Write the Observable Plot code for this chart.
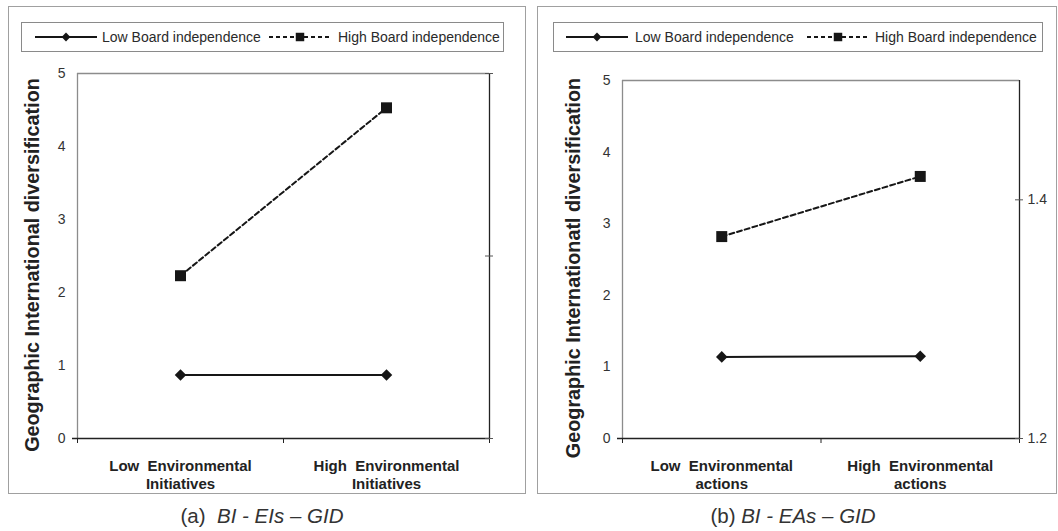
<!DOCTYPE html>
<html><head><meta charset="utf-8">
<script src="https://cdn.jsdelivr.net/npm/d3@7"></script>
<script src="https://cdn.jsdelivr.net/npm/@observablehq/plot@0.6"></script>
<style>
body{margin:0;background:#fff;font-family:"Liberation Sans",Arial,sans-serif;}
#root{position:relative;width:1058px;height:531px;overflow:hidden;background:#fff;}
.panel{position:absolute;border:1px solid #a0a0a0;box-sizing:border-box;}
.legend{position:absolute;border:1px solid #8a8a8a;box-sizing:border-box;background:#fff;}
.ltext{position:absolute;font-size:14px;line-height:14px;color:#2a2a2a;white-space:nowrap;}
.ytitle{position:absolute;font-weight:bold;font-size:19.8px;line-height:20px;color:#222;white-space:nowrap;transform:translate(-50%,-50%) rotate(-90deg);}
.caption{position:absolute;font-size:20.5px;line-height:20px;color:#333;white-space:pre;transform:translateX(-50%);}
.plotsvg{position:absolute;}
svg text{white-space:pre;}
</style></head><body><div id="root"></div>
<script>
// ---------- data ----------
const seriesNames = ["Low Board independence", "High Board independence"];
const categoriesA = ["Low  Environmental\nInitiatives", "High  Environmental\nInitiatives"];
const categoriesB = ["Low  Environmental\nactions", "High  Environmental\nactions"];
const lowBI_A = [0.87, 0.87];
const highBI_A = [2.23, 4.53];
const lowBI_B = [1.14, 1.15];
const highBI_B = [2.82, 3.66];
const yTicks = [0, 1, 2, 3, 4, 5];
const yTitleA = "Geographic International diversification";
const yTitleB = "Geographic Internationatl diversification";
const rightDomainB = [1.2, 1.5];
const rightTicksB = [1.2, 1.4];
const rightTicksA = [0, 2.5, 5];
const captionA = ["(a)  ", "BI - EIs – GID"];
const captionB = ["(b) ", "BI - EAs – GID"];

const root = document.getElementById("root");
const FONT = '"Liberation Sans", Arial, sans-serif';
const INK = "#161616";

function el(tag, cls, style, text) {
  const e = document.createElement(tag);
  if (cls) e.className = cls;
  Object.assign(e.style, style || {});
  if (text != null) e.textContent = text;
  root.appendChild(e);
  return e;
}

function legendSample(x, y, dashed, symbol) {
  const ns = "http://www.w3.org/2000/svg";
  const s = document.createElementNS(ns, "svg");
  s.setAttribute("width", 62); s.setAttribute("height", 14);
  s.style.position = "absolute"; s.style.left = x + "px"; s.style.top = (y - 7) + "px";
  const l = document.createElementNS(ns, "line");
  l.setAttribute("x1", 0); l.setAttribute("x2", 62); l.setAttribute("y1", 7); l.setAttribute("y2", 7);
  l.setAttribute("stroke", INK); l.setAttribute("stroke-width", 2);
  if (dashed) l.setAttribute("stroke-dasharray", "4,3");
  s.appendChild(l);
  const p = document.createElementNS(ns, "path");
  p.setAttribute("d", d3.symbol(symbol === "square" ? d3.symbolSquare : d3.symbolDiamond2, symbol === "square" ? 72 : 50)());
  p.setAttribute("transform", "translate(31,7)");
  p.setAttribute("fill", INK);
  s.appendChild(p);
  root.appendChild(s);
}

function makePanel(cfg) {
  el("div", "panel", {left: cfg.left + "px", top: "6px", width: cfg.width + "px", height: "488px"});

  const data = [];
  cfg.cats.forEach((c, i) => {
    data.push({series: seriesNames[0], xi: i + 0.5, v: cfg.low[i]});
    data.push({series: seriesNames[1], xi: i + 0.5, v: cfg.high[i]});
  });
  const lowD = data.filter(d => d.series === seriesNames[0]);
  const highD = data.filter(d => d.series === seriesNames[1]);

  const marks = [
    Plot.ruleX([0], {stroke: "#8c8c8c", strokeWidth: 1.3}),
    Plot.ruleY([5], {stroke: "#8c8c8c", strokeWidth: 1.3}),
    Plot.ruleX([2], {stroke: "#222", strokeWidth: 1.3}),
    Plot.ruleY([0], {stroke: "#222", strokeWidth: 1.3, insetLeft: -5}),
    Plot.axisY({ticks: yTicks, tickSize: 0, tickPadding: 12, fontSize: 14, fill: "#333", label: null, tickFormat: d => String(d)}),
    Plot.axisX({ticks: [0, 1, 2], tickSize: 5, tickFormat: () => "", stroke: "#222", label: null}),
    Plot.ruleY(cfg.rightTickPos, {y: d => d, x1: 2, x2: 2, insetLeft: -4, insetRight: -4, stroke: "#555"}),
    Plot.text(cfg.cats, {x: (d, i) => i + 0.5, text: d => d, frameAnchor: "bottom", lineAnchor: "top",
      dy: 20, fontWeight: "bold", fontSize: 15, lineHeight: 1.2, fill: "#222"}),
    Plot.line(lowD, {x: "xi", y: "v", stroke: INK, strokeWidth: 2}),
    Plot.line(highD, {x: "xi", y: "v", stroke: INK, strokeWidth: 2, strokeDasharray: "5,3"}),
    Plot.dot(lowD, {x: "xi", y: "v", symbol: "diamond2", r: 5.2, fill: INK, stroke: "none"}),
    Plot.dot(highD, {x: "xi", y: "v", symbol: "square", r: 6.2, fill: INK, stroke: "none"})
  ];
  if (cfg.rightFormat) {
    marks.push(Plot.axisY({anchor: "right", ticks: cfg.rightTickPos, tickSize: 0, tickPadding: 8,
      tickFormat: cfg.rightFormat, fontSize: 14, fill: "#333", label: null}));
  }

  const svg = Plot.plot({
    width: cfg.width, height: 488,
    marginLeft: cfg.mL, marginRight: cfg.mR, marginTop: cfg.mT, marginBottom: 56,
    x: {domain: [0, 2]},
    y: {domain: [0, 5]},
    style: {fontFamily: FONT, background: "transparent", overflow: "visible", color: "#222"},
    marks
  });
  svg.classList.add("plotsvg");
  svg.style.left = cfg.left + "px";
  svg.style.top = "6px";
  root.appendChild(svg);

  const L = cfg.legend;
  el("div", "legend", {left: L.x + "px", top: "22px", width: L.w + "px", height: "30px"});
  legendSample(L.s1, 37, false, "diamond");
  el("div", "ltext", {left: L.t1 + "px", top: "30px"}, seriesNames[0]);
  legendSample(L.s2, 37, true, "square");
  el("div", "ltext", {left: L.t2 + "px", top: "30px"}, seriesNames[1]);

  el("div", "ytitle", {left: cfg.titleX + "px", top: cfg.titleY + "px"}, cfg.title);

  const cap = el("div", "caption", {left: cfg.capX + "px", top: "506px"});
  const s1 = document.createElement("span"); s1.textContent = cfg.caption[0];
  const s2 = document.createElement("span"); s2.textContent = cfg.caption[1]; s2.style.fontStyle = "italic";
  cap.appendChild(s1); cap.appendChild(s2);
}

const toPrimary = v => (v - rightDomainB[0]) / (rightDomainB[1] - rightDomainB[0]) * 5;
const fromPrimary = p => rightDomainB[0] + p / 5 * (rightDomainB[1] - rightDomainB[0]);

makePanel({
  left: 8, width: 518, mL: 69, mR: 37, mT: 67,
  cats: categoriesA, low: lowBI_A, high: highBI_A,
  rightTickPos: rightTicksA, rightFormat: null,
  legend: {x: 21, w: 483, s1: 35, t1: 102, s2: 269, t2: 338},
  title: yTitleA, titleX: 32, titleY: 265,
  caption: captionA, capX: 262
});
makePanel({
  left: 537, width: 520, mL: 85, mR: 38, mT: 74,
  cats: categoriesB, low: lowBI_B, high: highBI_B,
  rightTickPos: rightTicksB.map(toPrimary), rightFormat: d => fromPrimary(d).toFixed(1),
  legend: {x: 553, w: 490, s1: 566, t1: 635, s2: 807, t2: 875},
  title: yTitleB, titleX: 573, titleY: 268,
  caption: captionB, capX: 793
});
</script></body></html>
